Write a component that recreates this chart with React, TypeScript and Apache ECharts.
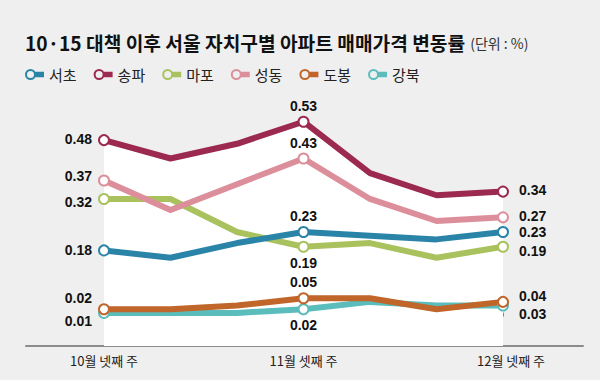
import React, { useEffect, useRef } from 'react';
import * as echarts from 'echarts';

const categories = ['10월 넷째 주', '11월 첫째 주', '11월 둘째 주', '11월 셋째 주', '11월 넷째 주', '12월 셋째 주', '12월 넷째 주'];
const seocho = [0.18, 0.16, 0.2, 0.23, 0.22, 0.21, 0.23];
const songpa = [0.48, 0.43, 0.47, 0.53, 0.39, 0.33, 0.34];
const mapo = [0.32, 0.32, 0.23, 0.19, 0.2, 0.16, 0.19];
const seongdong = [0.37, 0.29, 0.36, 0.43, 0.32, 0.26, 0.27];
const dobong = [0.02, 0.02, 0.03, 0.05, 0.05, 0.02, 0.04];
const gangbuk = [0.01, 0.01, 0.01, 0.02, 0.04, 0.03, 0.03];
const legendOrder = ['서초', '송파', '마포', '성동', '도봉', '강북'];

const colors: Record<string, string> = {
  서초: '#2a84a8',
  송파: '#9b2950',
  마포: '#a9c25e',
  성동: '#dc8f9b',
  도봉: '#c0662b',
  강북: '#5bbdbb',
};

type LabelCfg = { leftDy: number; mid: 'top' | 'bottom'; rightDy: number };
const labelCfg: Record<string, LabelCfg> = {
  서초: { leftDy: 0, mid: 'top', rightDy: 0 },
  송파: { leftDy: -1, mid: 'top', rightDy: -2 },
  마포: { leftDy: 3, mid: 'bottom', rightDy: 4 },
  성동: { leftDy: -5, mid: 'top', rightDy: -1 },
  도봉: { leftDy: -11, mid: 'top', rightDy: -6 },
  강북: { leftDy: 8, mid: 'bottom', rightDy: 8 },
};

const CJK = '"Noto Sans CJK KR", "Noto Sans", sans-serif';
const NUM = '"Liberation Sans", Arial, sans-serif';

function buildData(values: number[], cfg: LabelCfg) {
  const last = values.length - 1;
  const mid = 3;
  return values.map((v, i) => {
    if (i === 0)
      return { value: v, symbol: 'circle', label: { show: true, position: 'left', distance: 6, offset: [0, cfg.leftDy] } };
    if (i === mid) return { value: v, symbol: 'circle', label: { show: true, position: cfg.mid, distance: 3 } };
    if (i === last)
      return { value: v, symbol: 'circle', label: { show: true, position: 'right', distance: 10, offset: [0, cfg.rightDy] } };
    return { value: v, symbol: 'none', label: { show: false } };
  });
}

function makeSeries(name: string, values: number[], z: number, area = false) {
  const c = colors[name];
  const s: any = {
    name,
    type: 'line',
    xAxisIndex: 0,
    yAxisIndex: 0,
    z,
    data: buildData(values, labelCfg[name]),
    symbol: 'circle',
    symbolSize: 10,
    showSymbol: true,
    lineStyle: { color: c, width: 6, join: 'round', cap: 'round' },
    itemStyle: { color: '#fff', borderColor: c, borderWidth: 2 },
    label: {
      show: false,
      formatter: (p: any) => Number(p.value).toFixed(2),
      fontFamily: NUM,
      fontWeight: 'bold',
      fontSize: 14,
      color: '#111',
    },
    emphasis: { disabled: true },
  };
  if (area) {
    s.areaStyle = { color: '#ffffff', opacity: 1, origin: 'start' };
  }
  return s;
}

const iconPath =
  'path://M0,5.5A5.5,5.5,0,1,1,11,5.5A5.5,5.5,0,1,1,0,5.5ZM2,5.5A3.5,3.5,0,1,0,9,5.5A3.5,3.5,0,1,0,2,5.5ZM10.5,2.8L19,2.8L19,8.2L10.5,8.2Z';

export default function App() {
  const ref = useRef<HTMLDivElement>(null);
  useEffect(() => {
    if (!ref.current) return;
    const chart = echarts.init(ref.current, undefined, { renderer: 'svg' });
    const option: any = {
      animation: false,
      backgroundColor: '#efefef',
      title: {
        left: 20,
        top: 28,
        text: '{a|10·15 대책 이후 서울 자치구별 아파트 매매가격 변동률} {b|(단위 : %)}',
        textStyle: {
          rich: {
            a: { fontFamily: CJK, fontWeight: 'bold', fontSize: 19.2, color: '#111' },
            b: { fontFamily: CJK, fontWeight: 'normal', fontSize: 14, color: '#333' },
          },
        },
      },
      legend: {
        left: 20,
        top: 62,
        icon: iconPath,
        itemWidth: 19,
        itemHeight: 11,
        itemGap: 17,
        selectedMode: false,
        textStyle: { fontFamily: CJK, fontSize: 15, color: '#222' },
        itemStyle: { borderWidth: 0 },
        data: legendOrder.map((n) => ({ name: n, itemStyle: { color: colors[n], borderWidth: 0 } })),
      },
      grid: [
        { left: 104, right: 97, top: 96, bottom: 34 },
        { left: 26, right: 17, top: 96, bottom: 34 },
      ],
      xAxis: [
        {
          type: 'category',
          gridIndex: 0,
          data: categories,
          boundaryGap: false,
          axisLine: { show: false },
          axisTick: { show: true, inside: true, length: 4, interval: 2, lineStyle: { color: '#888', width: 1 } },
          axisLabel: {
            interval: 2,
            margin: 8,
            fontFamily: CJK,
            fontSize: 13,
            color: '#222',
            formatter: (v: string, i: number) => (i === categories.length - 1 ? `{r|${v}}` : v),
            rich: { r: { fontFamily: CJK, fontSize: 13, color: '#222', padding: [0, 0, 0, 16] } },
          },
          splitLine: { show: false },
        },
        {
          type: 'value',
          gridIndex: 1,
          min: 0,
          max: 1,
          axisLine: { show: true, lineStyle: { color: '#8c8c8c', width: 2 } },
          axisTick: { show: false },
          axisLabel: { show: false },
          splitLine: { show: false },
        },
      ],
      yAxis: [
        { type: 'value', gridIndex: 0, min: -0.08, max: 0.6, show: false },
        { type: 'value', gridIndex: 1, min: 0, max: 1, show: false },
      ],
      series: [
        makeSeries('송파', songpa, 1, true),
        makeSeries('강북', gangbuk, 2),
        makeSeries('마포', mapo, 2),
        makeSeries('성동', seongdong, 2),
        makeSeries('서초', seocho, 2),
        makeSeries('도봉', dobong, 2),
      ],
    };
    chart.setOption(option);
    return () => chart.dispose();
  }, []);
  return <div ref={ref} style={{ position: 'fixed', left: 0, top: 0, width: 600, height: 380 }} />;
}
